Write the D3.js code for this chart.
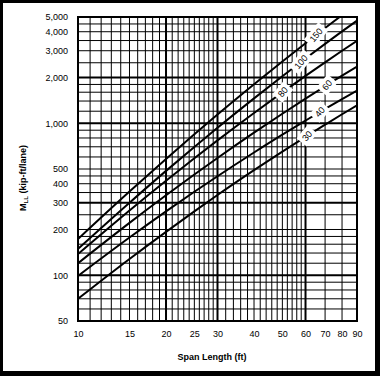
<!DOCTYPE html>
<html><head><meta charset="utf-8">
<script src="https://cdn.jsdelivr.net/npm/d3@7"></script>
<style>body{margin:0;background:#fff;} svg{display:block;}</style>
</head><body><svg id="c" width="380" height="376"></svg>
<script>
// ---- data ----
const spans = [10, 15, 20, 25, 30, 40, 50, 60, 70, 80, 90];
const curveNames = ["30", "40", "60", "80", "100", "150"];
const m30  = [70, 128, 193, 263, 337, 491, 651, 814, 979, 1146, 1311];
const m40  = [99, 177, 263, 354, 448, 642, 841, 1041, 1243, 1443, 1641];
const m60  = [120, 221, 336, 460, 591, 867, 1155, 1451, 1751, 2055, 2359];
const m80  = [138, 267, 419, 588, 771, 1168, 1597, 2048, 2517, 2999, 3487];
const m100 = [149, 300, 486, 698, 933, 1457, 2038, 2665, 3327, 4019, 4730];
const m150 = [173, 355, 582, 846, 1140, 1804, 2551, 3364, 4229, 5142, 6088];
const labelSpans = [60.7, 67.2, 71.1, 50.2, 57.9, 65.2];
const xTicks = [10, 15, 20, 25, 30, 40, 50, 60, 70, 80, 90];
const yTicks = [50, 100, 200, 300, 400, 500, 1000, 2000, 3000, 4000, 5000];
const xGridLines = [11,12,13,14,15,16,17,18,19,20,21,22,23,24,25,26,27,28,29,30,32,34,36,38,40,42,44,46,48,50,52,54,56,58,60,70,80];
const xGridHeavy = [20, 30, 60];
const yGridLines = [60,70,80,90,100,120,140,160,180,200,250,300,350,400,450,500,600,700,800,900,1000,1200,1400,1600,1800,2000,2500,3000,3500,4000,4500];
const yGridHeavy = [100, 300, 1000, 2000];

const series = [m30, m40, m60, m80, m100, m150];

const svg = d3.select("#c");
const W = 380, H = 376;
const x = d3.scaleLog().domain([10, 90]).range([78, 357]);
const y = d3.scaleLog().domain([50, 5000]).range([321, 17]);
const font = "'Liberation Sans', Arial, Helvetica, sans-serif";

svg.append("rect").attr("width", W).attr("height", H).attr("fill", "#fff");

// outer frame
const frame = svg.append("g").attr("fill", "#000");
frame.append("rect").attr("x", 0).attr("y", 0).attr("width", W).attr("height", 3);
frame.append("rect").attr("x", 0).attr("y", 0).attr("width", 3).attr("height", H);
frame.append("rect").attr("x", 375).attr("y", 0).attr("width", 5).attr("height", H);
frame.append("rect").attr("x", 0).attr("y", 371).attr("width", W).attr("height", 5);

// grid
const grid = svg.append("g");
grid.selectAll("line.vx").data(xGridLines).join("line")
  .attr("x1", d => x(d)).attr("x2", d => x(d))
  .attr("y1", y(50)).attr("y2", y(5000))
  .attr("stroke", "#000")
  .attr("stroke-width", d => xGridHeavy.includes(d) ? 2 : 1);
grid.selectAll("line.hy").data(yGridLines).join("line")
  .attr("y1", d => y(d)).attr("y2", d => y(d))
  .attr("x1", x(10)).attr("x2", x(90))
  .attr("stroke", "#000")
  .attr("stroke-width", d => yGridHeavy.includes(d) ? 2 : 1);

// clip for curves
svg.append("clipPath").attr("id", "plotclip").append("rect")
  .attr("x", x(10)).attr("y", y(5000)).attr("width", x(90) - x(10)).attr("height", y(50) - y(5000));

const line = d3.line().x((d, i) => x(spans[i])).y(d => y(d)).curve(d3.curveMonotoneX);
svg.append("g").attr("clip-path", "url(#plotclip)")
  .selectAll("path").data(series).join("path")
  .attr("d", d => line(d))
  .attr("fill", "none").attr("stroke", "#000").attr("stroke-width", 2);

// plot border
svg.append("rect").attr("x", x(10)).attr("y", y(5000))
  .attr("width", x(90) - x(10)).attr("height", y(50) - y(5000))
  .attr("fill", "none").attr("stroke", "#000").attr("stroke-width", 2);

// curve labels
function valueAt(vals, s) {
  const ls = Math.log(s);
  for (let i = 0; i < spans.length - 1; i++) {
    const a = Math.log(spans[i]), b = Math.log(spans[i + 1]);
    if (ls >= a && ls <= b) {
      const t = (ls - a) / (b - a);
      return Math.exp(Math.log(vals[i]) * (1 - t) + Math.log(vals[i + 1]) * t);
    }
  }
  return vals[vals.length - 1];
}
const lab = svg.append("g");
series.forEach((vals, i) => {
  const s = labelSpans[i];
  const g = lab.append("g")
    .attr("transform", `translate(${x(s)},${y(valueAt(vals, s))}) rotate(-50)`);
  const w = curveNames[i].length * 5.5 + 6;
  g.append("rect").attr("x", -w / 2).attr("y", -6.5).attr("width", w).attr("height", 13).attr("fill", "#fff");
  g.append("text").attr("text-anchor", "middle").attr("dy", "0.35em")
    .attr("font-family", font).attr("font-size", 9).text(curveNames[i]);
});

// axes
const xAxis = svg.append("g").attr("transform", `translate(0,${y(50)})`)
  .call(d3.axisBottom(x).tickValues(xTicks).tickSize(0).tickPadding(10).tickFormat(d3.format("d")));
xAxis.select(".domain").remove();
xAxis.selectAll("text").attr("font-family", font).attr("font-size", 9).attr("fill", "#000");

const yAxis = svg.append("g").attr("transform", `translate(${x(10)},0)`)
  .call(d3.axisLeft(y).tickValues(yTicks).tickSize(0).tickPadding(10).tickFormat(d3.format(",")));
yAxis.select(".domain").remove();
yAxis.selectAll("text").attr("font-family", font).attr("font-size", 9).attr("fill", "#000");

// axis titles
svg.append("text").attr("x", 212).attr("y", 360).attr("text-anchor", "middle")
  .attr("font-family", font).attr("font-size", 9).attr("font-weight", "bold").text("Span Length (ft)");

const yt = svg.append("text").attr("transform", "translate(26,178) rotate(-90)").attr("text-anchor", "middle")
  .attr("font-family", font).attr("font-size", 9).attr("font-weight", "bold");
yt.append("tspan").text("M");
yt.append("tspan").attr("font-size", 6).attr("dy", 2).text("LL");
yt.append("tspan").attr("dy", -2).text(" (kip-ft/lane)");
</script>
</body></html>
